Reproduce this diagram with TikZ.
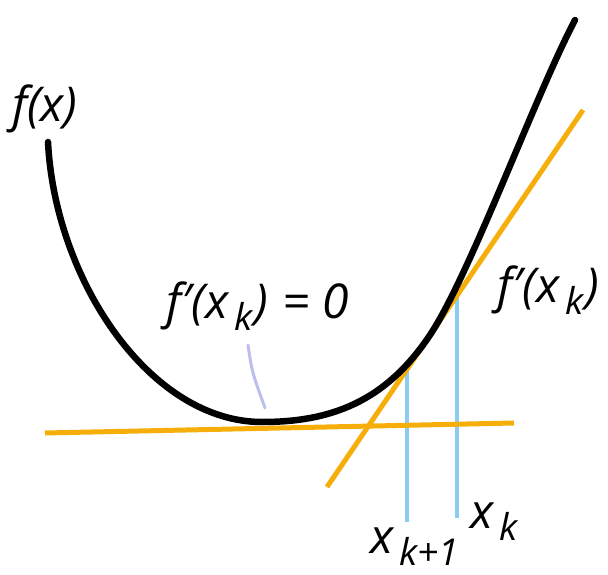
\documentclass[tikz,border=0pt]{standalone}
\usepackage{fontspec}
\newfontfamily\lblfam{Open Sans}
\definecolor{tanorange}{HTML}{F5AE0A}
\definecolor{vblue}{HTML}{8ACDF2}
\definecolor{lav}{HTML}{BDBDF0}
\newcommand\lblfont{\fontsize{48}{52}\selectfont\lblfam\itshape}
\newcommand\subk[1]{\kern6pt\raisebox{-0.26em}{\fontsize{37}{40}\selectfont #1}\kern2pt}
\tikzset{
  curve/.style={line width=6.5pt, black, line cap=round},
  tanline/.style={line width=5pt, tanorange},
  vline/.style={line width=4pt, vblue},
  lavline/.style={line width=3pt, lav, line cap=round},
  lbl/.style={inner sep=0pt, anchor=base west, font=\lblfont}
}
\begin{document}
\begin{tikzpicture}[x=1pt,y=-1pt]
\useasboundingbox (0,0) rectangle (608,575);
% vertical blue lines
\coordinate (k1top) at (407,366);
\coordinate (k1bot) at (407,522);
\coordinate (ktop) at (457,292);
\coordinate (kbot) at (457,518);
\draw[vline] (k1top) -- (k1bot);
\draw[vline] (ktop) -- (kbot);
% orange lines
\coordinate (hl) at (45,433);
\coordinate (hr) at (514,423);
\coordinate (tl) at (327,487);
\coordinate (tr) at (583,110);
\draw[tanline] (hl) -- (hr);
\draw[tanline] (tl) -- (tr);
% lavender mark
\draw[lavline] (248,345) .. controls (252,372) .. (265,408);
% curve f(x)
\coordinate (c0) at (48,142);
\coordinate (cmin) at (262,422);
\coordinate (ctan) at (430,335);
\coordinate (cend) at (575,20);
\draw[curve] (c0) .. controls (55,280) and (150,422) .. (cmin)
  .. controls (330,422) and (385,402.5) .. (ctan)
  .. controls (470,275) and (535,96) .. (cend);
% labels
\node[lbl] (fx) at (12,122) {f(x)};
\node[lbl] (dzero) at (166,318) {f′(x\subk{k}) \kern2pt= 0};
\node[lbl] (dk) at (497,302) {f′(x\subk{k})};
\node[lbl] (xk) at (470,528) {x\subk{k}};
\node[lbl] (xk1) at (370,553) {x\subk{k+1}};
\end{tikzpicture}
\end{document}
